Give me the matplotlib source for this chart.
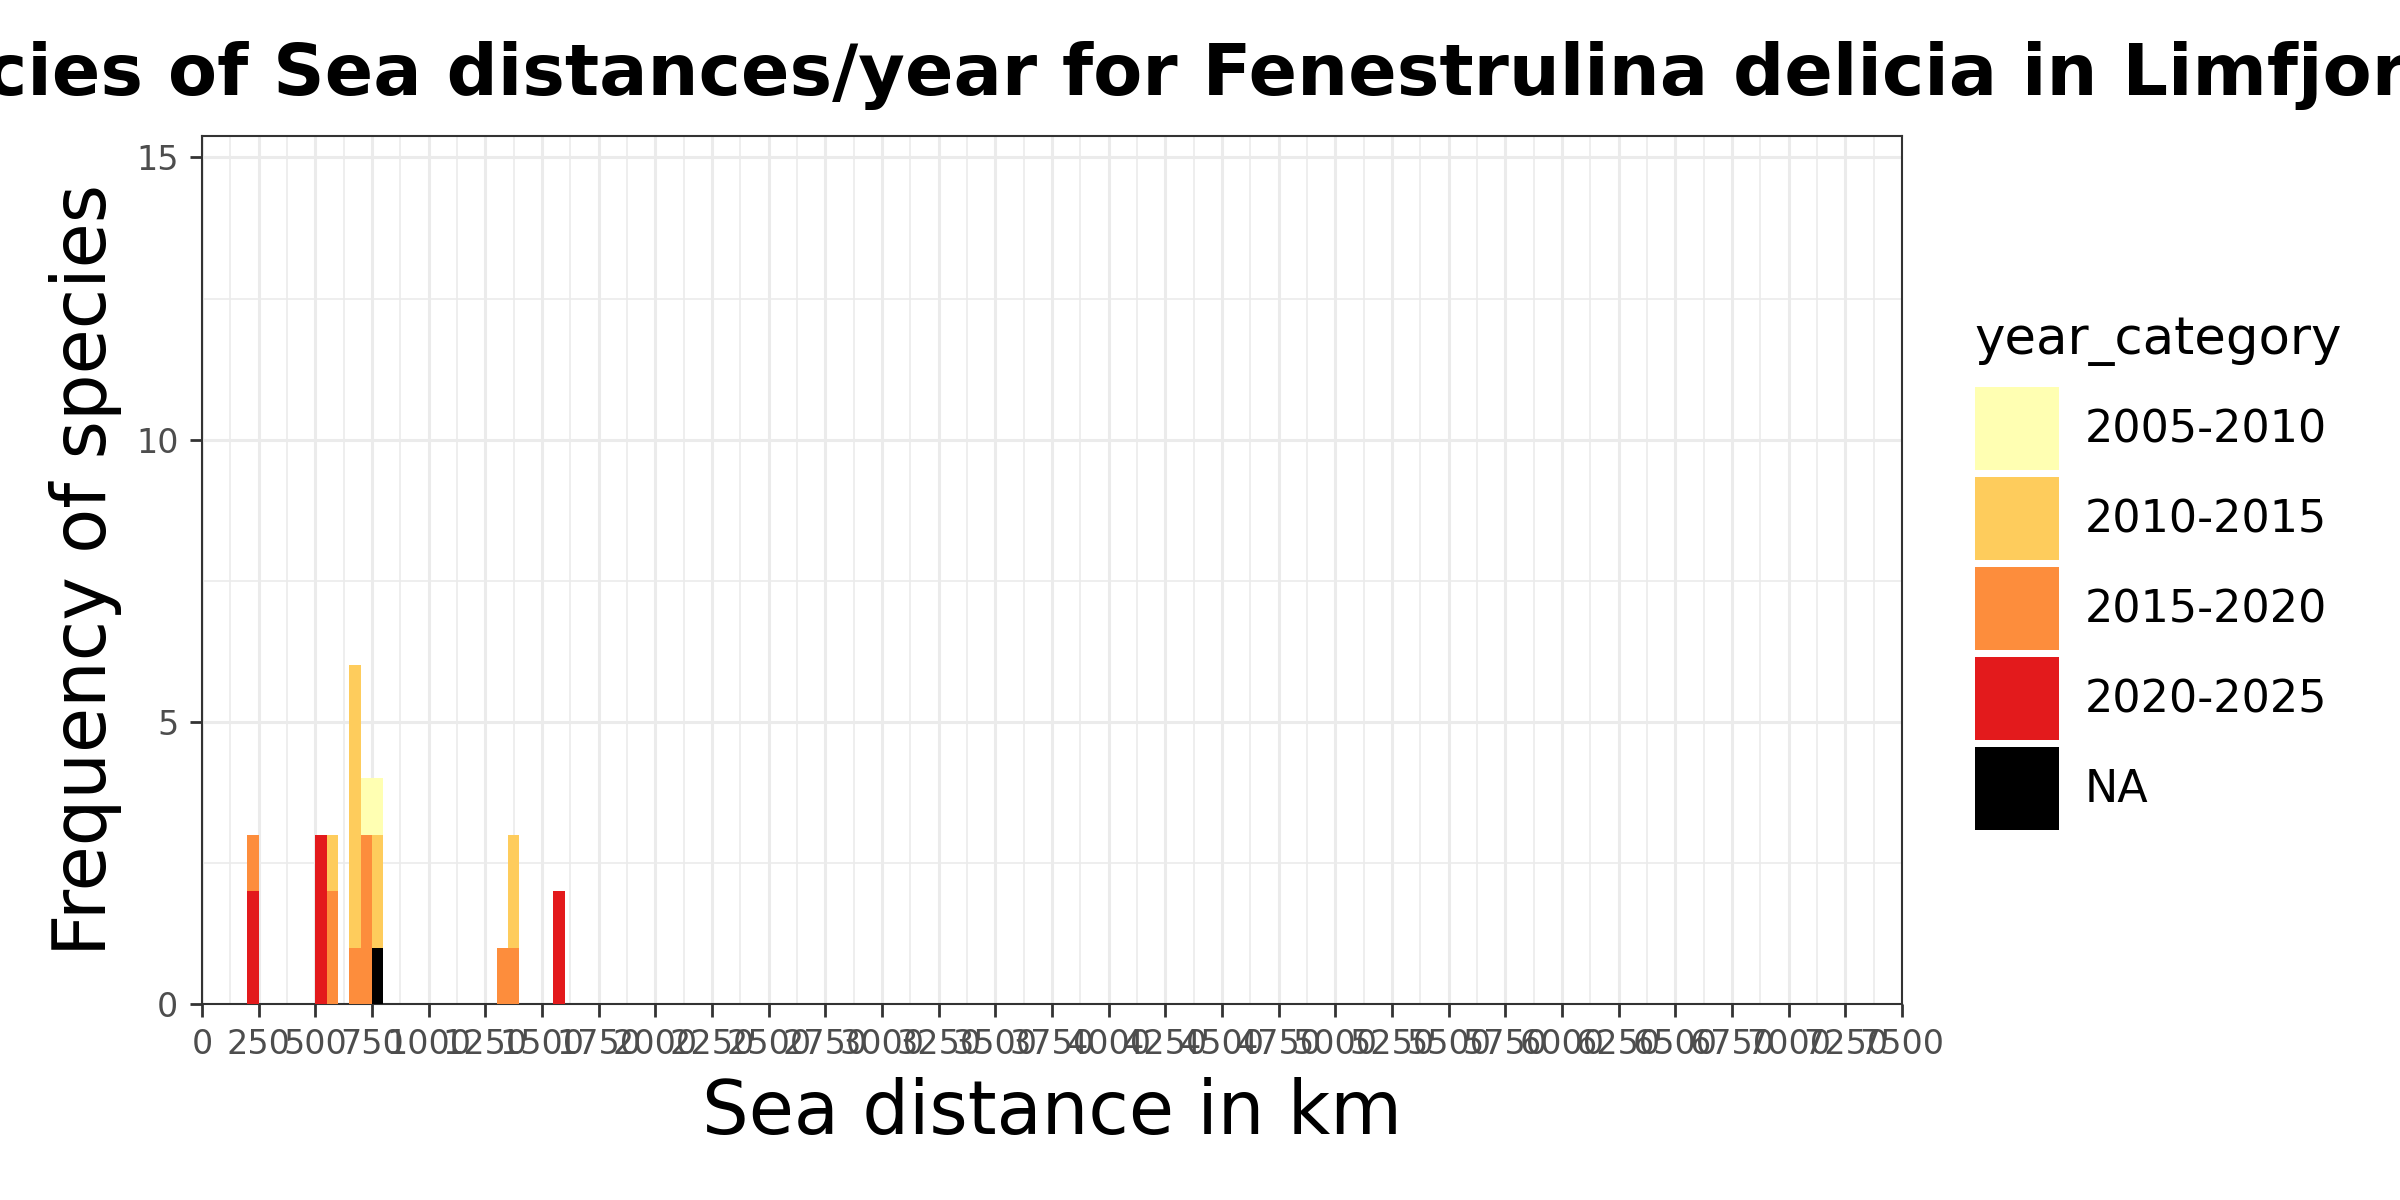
#!/usr/bin/env python3
"""Stacked histogram of sea distances per year category for Fenestrulina delicia."""
from __future__ import annotations

import matplotlib

matplotlib.use("Agg")
import matplotlib.pyplot as plt
from matplotlib.patches import Patch
from matplotlib.ticker import MultipleLocator
import numpy as np

TITLE = "Frequencies of Sea distances/year for Fenestrulina delicia in Limfjorden"
X_LABEL = "Sea distance in km"
Y_LABEL = "Frequency of species"
LEGEND_TITLE = "year_category"

BIN_WIDTH = 50
BIN_LEFT = [200, 500, 550, 650, 700, 750, 1300, 1350, 1550]
CATEGORIES = ["2005-2010", "2010-2015", "2015-2020", "2020-2025", "NA"]
COUNTS_2005_2010 = [0, 0, 0, 0, 1, 1, 0, 0, 0]
COUNTS_2010_2015 = [0, 0, 1, 5, 0, 2, 0, 2, 0]
COUNTS_2015_2020 = [1, 0, 2, 1, 3, 0, 1, 1, 0]
COUNTS_2020_2025 = [2, 3, 0, 0, 0, 0, 0, 0, 2]
COUNTS_NA = [0, 0, 0, 0, 0, 1, 0, 0, 0]
COLOURS = ["#FFFFB2", "#FECC5C", "#FD8D3C", "#E31A1C", "#000000"]

X_MAX = 7500
X_TICK_STEP = 250
Y_MAX = 15.38
Y_TICK_STEP = 5

FIG_W, FIG_H, DPI = 2400, 1200, 100
# panel box in pixels (left, top, right, bottom)
PANEL = (202, 136, 1902, 1004)


def draw_bars(axis) -> None:
    series = [COUNTS_2005_2010, COUNTS_2010_2015, COUNTS_2015_2020, COUNTS_2020_2025, COUNTS_NA]
    bottom = np.zeros(len(BIN_LEFT))
    # ggplot stacks the first level on top, so draw from the last level upwards
    for counts, colour in reversed(list(zip(series, COLOURS))):
        values = np.asarray(counts, dtype=float)
        axis.bar(BIN_LEFT, values, width=BIN_WIDTH, align="edge", bottom=bottom,
                 color=colour, linewidth=0, zorder=3)
        bottom += values


def style_axis(axis) -> None:
    axis.set_xlim(0, X_MAX)
    axis.set_ylim(0, Y_MAX)
    axis.xaxis.set_major_locator(MultipleLocator(X_TICK_STEP))
    axis.xaxis.set_minor_locator(MultipleLocator(X_TICK_STEP / 2))
    axis.yaxis.set_major_locator(MultipleLocator(Y_TICK_STEP))
    axis.yaxis.set_minor_locator(MultipleLocator(Y_TICK_STEP / 2))
    axis.grid(which="major", color="#EBEBEB", linewidth=2.2, zorder=0)
    axis.grid(which="minor", color="#EBEBEB", linewidth=1.2, zorder=0)
    axis.set_axisbelow(True)
    for spine in axis.spines.values():
        spine.set_color("#333333")
        spine.set_linewidth(1.5)
    axis.tick_params(which="major", length=9, width=2, color="#333333",
                     labelsize=24, labelcolor="#4D4D4D", pad=8)
    axis.tick_params(which="minor", length=0)
    axis.set_xlabel(X_LABEL, fontsize=53, labelpad=11.5)
    axis.set_ylabel(Y_LABEL, fontsize=53, labelpad=10)


def main() -> int:
    plt.rcParams["font.family"] = ["DejaVu Sans"]
    figure = plt.figure(figsize=(FIG_W / DPI, FIG_H / DPI), dpi=DPI)
    left, top, right, bottom = PANEL
    axis = figure.add_axes([left / FIG_W, 1 - bottom / FIG_H,
                            (right - left) / FIG_W, (bottom - top) / FIG_H])
    draw_bars(axis)
    style_axis(axis)

    # title is wider than the figure, so it is clipped on both sides as in the original
    figure.text(1106 / FIG_W, 1 - 95 / FIG_H, TITLE,
                ha="center", va="baseline", fontsize=51.5, fontweight="bold")

    figure.text(1974 / FIG_W, 1 - 354 / FIG_H, LEGEND_TITLE,
                ha="left", va="baseline", fontsize=37)
    handles = [Patch(facecolor=c, edgecolor="none", label=n) for n, c in zip(CATEGORIES, COLOURS)]
    figure.legend(handles=handles, loc="upper left", bbox_to_anchor=(1975 / FIG_W, 1 - 387 / FIG_H),
                  frameon=False, fontsize=32, handlelength=1.89, handleheight=2.507,
                  labelspacing=0.15, handletextpad=0.585, borderaxespad=0, borderpad=0)

    figure.savefig("out.png", dpi=DPI)
    plt.close(figure)
    return 0


if __name__ == "__main__":
    raise SystemExit(main())
